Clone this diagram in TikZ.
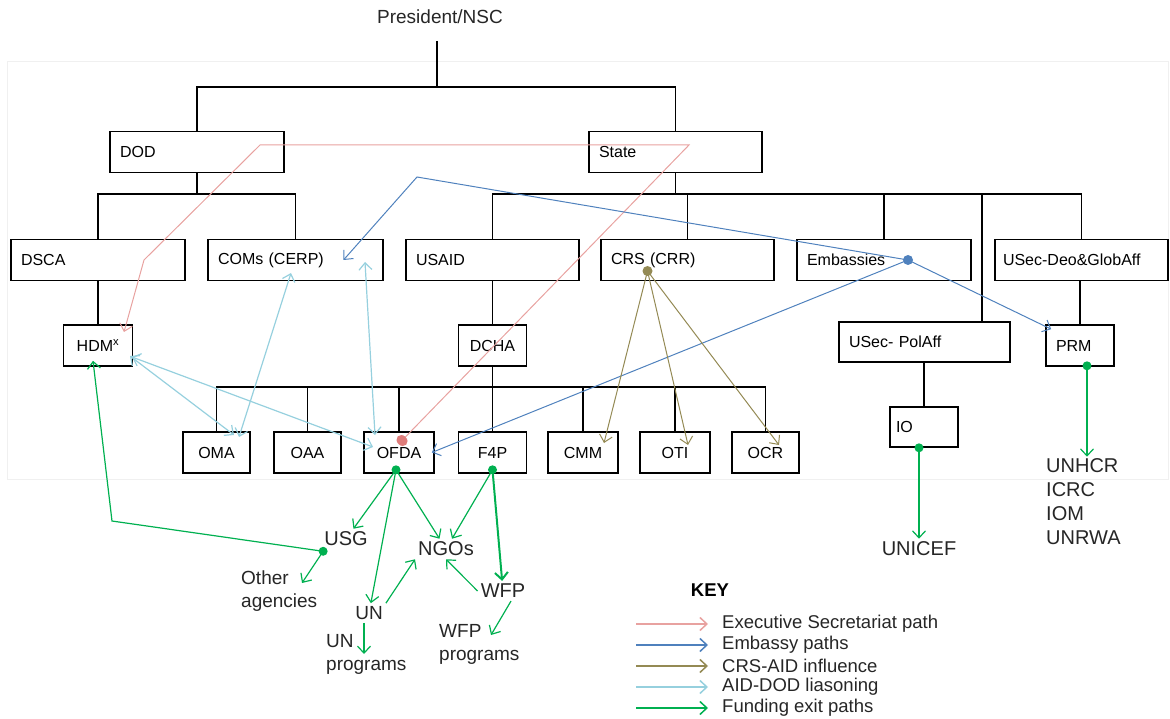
\documentclass[tikz,border=0pt]{standalone}
\usepackage{fontspec}
\setmainfont{Liberation Sans}
\usepackage{tikz}
\usetikzlibrary{positioning}
\usetikzlibrary{arrows.meta}

\definecolor{execpink}{RGB}{232,162,160}
\definecolor{execdot}{RGB}{222,124,122}
\definecolor{embblue}{RGB}{79,129,189}
\definecolor{crsolive}{RGB}{148,138,84}
\definecolor{liaiscyan}{RGB}{150,208,222}
\definecolor{fundgreen}{RGB}{0,176,80}

\newcommand{\orgfont}{\fontsize{16}{18}\selectfont}
\newcommand{\labfont}{\fontsize{20}{24}\selectfont}
\newcommand{\sublabfont}{\fontsize{19}{23}\selectfont}
\newcommand{\keyfont}{\fontsize{18.5}{21}\selectfont}

\begin{document}
\begin{tikzpicture}[x=1pt, y=-1pt,
    box/.style={draw, line width=1.6pt, minimum height=41pt, font=\orgfont},
    lbox/.style={box, text width=#1, align=left, inner xsep=10pt},
    cbox/.style={box, minimum width=#1, inner xsep=2pt},
    lab/.style={font=\labfont, inner sep=3pt, text=black!85},
    sublab/.style={font=\sublabfont, inner sep=2pt, align=left, anchor=west, text=black!85},
    tree/.style={line width=1.6pt},
    exec/.style={draw=execpink, line width=1pt, -{Straight Barb[length=7pt, width=13pt]}},
    emb/.style={draw=embblue, line width=1pt, -{Straight Barb[length=7pt, width=13pt]}},
    crs/.style={draw=crsolive, line width=1pt, -{Straight Barb[length=7pt, width=13pt]}},
    liais/.style={draw=liaiscyan, line width=1.2pt, {Straight Barb[length=7pt, width=13pt]}-{Straight Barb[length=7pt, width=13pt]}},
    fund/.style={draw=fundgreen, line width=1.2pt, -{Straight Barb[length=7pt, width=13pt]}}]
    \useasboundingbox (0,0) rectangle (1170,719);
    \draw[black!6, line width=1pt] (7,62) rectangle (1168,479);
    % nodes %
    \node[font=\sublabfont, text=black!85] (pres) at (440,17) {President/NSC};
    \node[lbox=154pt] (dod) at (197,152) {DOD};
    \node[lbox=153pt] (state) at (675.5,152) {State};
    \node[lbox=154pt] (dsca) at (98,260) {DSCA};
    \node[lbox=155pt] (coms) at (295.5,260) {COMs (CERP)};
    \node[lbox=153pt] (usaid) at (492.5,260) {USAID};
    \node[lbox=153pt] (crs) at (687.5,260) {CRS (CRR)};
    \node[lbox=154pt] (embs) at (884,260) {Embassies};
    \node[lbox=157pt, inner xsep=8pt] (usecdec) at (1081.5,260) {USec-Deo\&GlobAff};
    \node[cbox=69pt] (hdm) at (98,345.5) {HDM\textsuperscript{x}};
    \node[cbox=68pt] (dcha) at (492.5,345.5) {DCHA};
    \node[lbox=151pt, minimum height=40pt] (usecpol) at (924.5,342) {USec- PolAff};
    \node[lbox=48pt] (prm) at (1080,345.5) {PRM};
    \node[lbox=56pt, inner xsep=6pt, minimum height=40pt] (io) at (924,427) {IO};
    \node[cbox=67pt] (oma) at (216.5,452.5) {OMA};
    \node[cbox=67pt] (oaa) at (307.5,452.5) {OAA};
    \node[cbox=70pt] (ofda) at (399,452.5) {OFDA};
    \node[cbox=68pt] (f4p) at (492.5,452.5) {F4P};
    \node[cbox=70pt] (cmm) at (583,452.5) {CMM};
    \node[cbox=70pt] (oti) at (675,452.5) {OTI};
    \node[cbox=67pt] (ocr) at (765.5,452.5) {OCR};
    \node[lab] (usg) at (346,539) {USG};
    \node[lab] (ngos) at (446,549) {NGOs};
    \node[lab, font=\sublabfont] (un) at (369,613) {UN};
    \node[lab] (wfp) at (503,591) {WFP};
    \node[sublab] (others) at (239,591) {Other\\agencies};
    \node[sublab] (unprog) at (324,654) {UN\\programs};
    \node[sublab] (wfpprog) at (437,644) {WFP\\programs};
    \node[lab] (unicef) at (919,549) {UNICEF};
    \node[sublab, font=\labfont] (prmlist) at (1044,502) {UNHCR\\ICRC\\IOM\\UNRWA};
    \node[font=\bfseries\keyfont] (key) at (710,590) {KEY};
    % org lines %
    \coordinate (ptop) at (437,41);
    \coordinate (topbar) at (437,87);
    \coordinate (dodbar) at (197,194);
    \coordinate (statebar) at (675.5,194);
    \coordinate (polbar) at (982,194);
    \coordinate (dchabar) at (492.5,387);
    \draw[tree] (ptop) -- (topbar);
    \draw[tree] (dod.north) |- (topbar) -| (state.north);
    \draw[tree] (dod.south) -- (dodbar);
    \draw[tree] (dsca.north) |- (dodbar) -| (coms.north);
    \draw[tree] (state.south) -- (statebar);
    \draw[tree] (usaid.north) |- (statebar) -| (usecdec.north);
    \draw[tree] (crs.north) -- (crs.north |- statebar);
    \draw[tree] (embs.north) -- (embs.north |- statebar);
    \draw[tree] (polbar) -- (polbar |- usecpol.north);
    \draw[tree] (hdm.north) -- (hdm.north |- dsca.south);
    \draw[tree] (dcha.north) -- (usaid.south);
    \draw[tree] (dcha.south) -- (dchabar);
    \draw[tree] (oma.north) |- (dchabar) -| (ocr.north);
    \foreach \n in {oaa,ofda,f4p,cmm,oti}
        \draw[tree] (\n.north) -- (\n.north |- dchabar);
    \draw[tree] (io.north) -- (io.north |- usecpol.south);
    \draw[tree] (prm.north) -- (prm.north |- usecdec.south);
    % source points %
    \coordinate (execsrc) at ([xshift=3,yshift=12]ofda.center);
    \coordinate (embsrc) at ([xshift=24]embs.center);
    \coordinate (crssrc) at ([xshift=-40,yshift=-11]crs.center);
    \coordinate (ofdasrc) at ([xshift=-3,yshift=4]ofda.south);
    \coordinate (f4psrc) at ([yshift=4]f4p.south);
    \coordinate (usgsrc) at ([xshift=2,yshift=-2]usg.south west);
    \coordinate (iosrc) at ([xshift=-5]io.south);
    \coordinate (prmsrc) at ([xshift=7,yshift=1]prm.south);
    % executive secretariat %
    \draw[exec] (execsrc) -- ([xshift=13.5,yshift=7]state.center)
        -- ([xshift=63,yshift=7]dod.center) -- ([xshift=46]dsca.center)
        -- ([xshift=26,yshift=13.5]hdm.center);
    \fill[execdot, rotate around={-45:(execsrc)}] (execsrc) ellipse (6pt and 5pt);
    % embassy paths %
    \coordinate (embbend) at (417,177);
    \draw[emb] (embsrc) -- (embbend) -- ([xshift=48]coms.center);
    \draw[emb] (embsrc) -- ([xshift=6,yshift=-5]prm.north west);
    \draw[emb] (embsrc) -- ([xshift=-3]ofda.east);
    \fill[embblue] (embsrc) circle (5pt);
    % crs-aid %
    \draw[crs] (crssrc) -- ([xshift=21,yshift=9.5]cmm.center);
    \draw[crs] (crssrc) -- ([xshift=13,yshift=7.5]oti.center);
    \draw[crs] (crssrc) -- ([xshift=13.5,yshift=7.5]ocr.center);
    \fill[crsolive] (crssrc) circle (5pt);
    % aid-dod %
    \draw[liais] ([xshift=32,yshift=-10.5]hdm.center) -- ([xshift=17.5,yshift=17.5]oma.center);
    \draw[liais] ([xshift=34,yshift=-11.5]hdm.center) -- ([xshift=-26,yshift=5.5]ofda.center);
    \draw[liais] ([xshift=-4.5,yshift=-13]coms.center) -- ([xshift=22.5,yshift=15.5]oma.center);
    \draw[liais] ([xshift=69.5,yshift=-2]coms.center) -- ([xshift=-24,yshift=17.5]ofda.center);
    % funding %
    \coordinate (hbend) at (112,521);
    \draw[fund] (ofdasrc) -- (usg);
    \draw[fund] (ofdasrc) -- (un);
    \draw[fund] (ofdasrc) -- (ngos);
    \draw[fund] (f4psrc) -- (ngos);
    \draw[fund, line width=2pt] (f4psrc) -- (wfp);
    \draw[fund] (usgsrc) -- (hbend) -- ([xshift=-5,yshift=6]hdm.south);
    \draw[fund] (usgsrc) -- ([xshift=63,yshift=8]others.west);
    \draw[fund] (un.north east) -- (ngos.south west);
    \draw[fund] (wfp.west) -- (ngos.south);
    \draw[fund] ([xshift=-5]un.south) -- ([xshift=40]unprog.west);
    \draw[fund] ([xshift=8]wfp.south) -- ([xshift=54,yshift=9]wfpprog.west);
    \draw[fund] (iosrc) -- (unicef);
    \draw[fund] (prmsrc) -- (prmsrc |- prmlist.north);
    \foreach \p in {ofdasrc,f4psrc,usgsrc,iosrc,prmsrc}
        \fill[fundgreen] (\p) circle (4.5pt);
    % key %
    \foreach \col/\txt [count=\i] in {execpink/Executive Secretariat path,
        embblue/Embassy paths, crsolive/CRS-AID influence,
        liaiscyan/AID-DOD liasoning, fundgreen/Funding exit paths} {
        \node[font=\keyfont, anchor=west, inner sep=2pt, text=black!85] (k\i) at (720,603+21*\i) {\txt};
        \draw[draw=\col, line width=1.5pt, -{Straight Barb[length=7pt, width=13pt]}]
            ([xshift=-84]k\i.west) -- ([xshift=-12]k\i.west);
    }
\end{tikzpicture}
\end{document}
